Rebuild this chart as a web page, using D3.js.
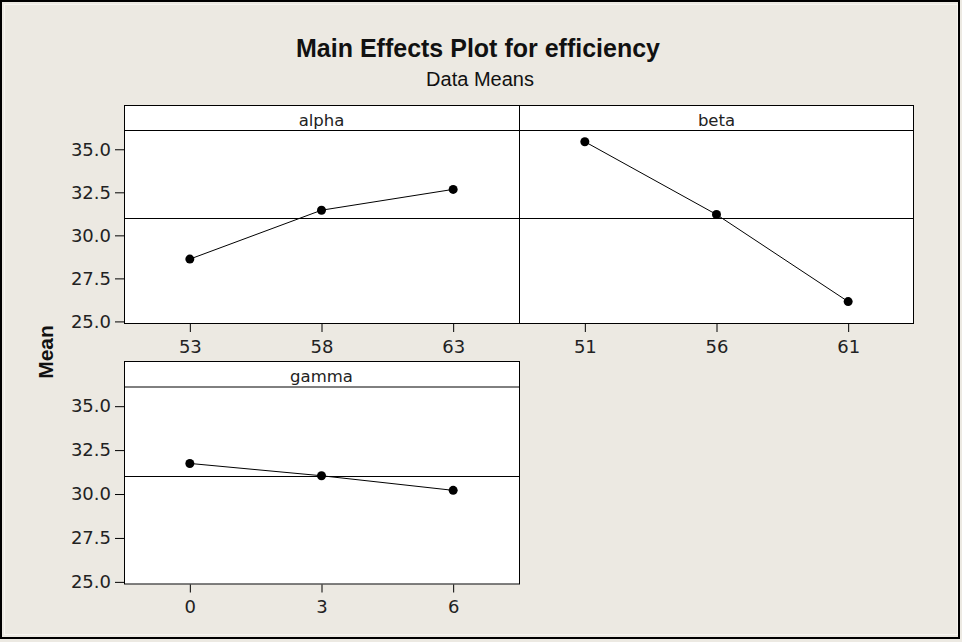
<!DOCTYPE html>
<html>
<head>
<meta charset="utf-8">
<script src="https://cdn.jsdelivr.net/npm/d3@7"></script>
<style>
  html, body { margin: 0; padding: 0; background: #ECE9E2; }
  svg { display: block; }
  text { font-family: "DejaVu Sans", sans-serif; fill: #111; }
</style>
</head>
<body>
<svg id="chart" width="962" height="642"></svg>
<script>
// ---- data ----
const titleText = "Main Effects Plot for efficiency";
const subtitleText = "Data Means";
const yLabel = "Mean";
const factors = ["alpha", "beta", "gamma"];
const alphaLevels = [53, 58, 63];
const alphaMeans = [28.62, 31.46, 32.67];
const betaLevels = [51, 56, 61];
const betaMeans = [35.44, 31.21, 26.15];
const gammaLevels = [0, 3, 6];
const gammaMeans = [31.74, 31.04, 30.21];
const grandMean = 31.0;
const yTicks = [25.0, 27.5, 30.0, 32.5, 35.0];

const panelsData = [
  { name: factors[0], levels: alphaLevels, means: alphaMeans },
  { name: factors[1], levels: betaLevels, means: betaMeans },
  { name: factors[2], levels: gammaLevels, means: gammaMeans }
];

// ---- layout ----
const W = 962, H = 642;
const svg = d3.select("#chart");
svg.append("rect").attr("x", 0).attr("y", 0).attr("width", W).attr("height", H).attr("fill", "#ECE9E2");
svg.append("rect").attr("x", 4.5).attr("y", 4.5).attr("width", W - 9).attr("height", H - 12)
  .attr("fill", "none").attr("stroke", "#F7F5F1").attr("stroke-width", 1);
svg.append("rect").attr("x", 1).attr("y", 1).attr("width", 958).attr("height", 637)
  .attr("fill", "none").attr("stroke", "#000").attr("stroke-width", 2);

svg.append("text").attr("x", 478).attr("y", 57).attr("text-anchor", "middle")
  .style("font-family", "'Liberation Sans', Arial, sans-serif")
  .style("font-weight", "bold").style("font-size", "25px").text(titleText);
svg.append("text").attr("x", 480).attr("y", 86).attr("text-anchor", "middle")
  .style("font-family", "'Liberation Sans', Arial, sans-serif")
  .style("font-size", "20px").text(subtitleText);

svg.append("text")
  .attr("transform", "translate(53,352) rotate(-90)")
  .attr("text-anchor", "middle")
  .style("font-family", "'Liberation Sans', Arial, sans-serif")
  .style("font-weight", "bold").style("font-size", "21px").text(yLabel);

const panelW = 395;
const positions = [
  { x: 124, w: 395, top: 105, strip: 25, bottom: 324, yAxis: true },
  { x: 519, w: 394, top: 105, strip: 25, bottom: 324, yAxis: false },
  { x: 124, w: 395, top: 361, strip: 25.5, bottom: 584.5, yAxis: true }
];
const yDomain = [24.85, 36.12];

panelsData.forEach((p, i) => {
  const pos = positions[i];
  const plotTop = pos.top + pos.strip;
  const g = svg.append("g");
  const x = d3.scalePoint().domain(p.levels).range([pos.x, pos.x + panelW]).padding(0.5);
  const y = d3.scaleLinear().domain(yDomain).range([pos.bottom, plotTop]);

  // panel background
  g.append("rect").attr("x", pos.x).attr("y", pos.top).attr("width", pos.w)
    .attr("height", pos.bottom - pos.top).attr("fill", "#fff");

  // grand mean reference line
  g.append("line").attr("x1", pos.x).attr("x2", pos.x + pos.w)
    .attr("y1", Math.round(y(grandMean)) + 0.5).attr("y2", Math.round(y(grandMean)) + 0.5)
    .attr("stroke", "#000").attr("stroke-width", 1);

  // line + markers
  const pts = p.levels.map((lv, k) => [x(lv), y(p.means[k])]);
  g.append("path").attr("d", d3.line()(pts)).attr("fill", "none")
    .attr("stroke", "#000").attr("stroke-width", 1);
  g.selectAll("circle.m").data(pts).join("circle").attr("class", "m")
    .attr("cx", d => d[0]).attr("cy", d => d[1]).attr("r", 4.5).attr("fill", "#000");

  // strip
  g.append("line").attr("x1", pos.x).attr("x2", pos.x + pos.w)
    .attr("y1", plotTop + 0.5).attr("y2", plotTop + 0.5).attr("stroke", "#000");
  g.append("text").attr("x", pos.x + panelW / 2).attr("y", pos.top + 20.5)
    .attr("text-anchor", "middle").style("font-size", "16.5px").style("fill", "#222").text(p.name);

  // border
  g.append("rect").attr("x", pos.x + 0.5).attr("y", pos.top + 0.5).attr("width", pos.w)
    .attr("height", pos.bottom - pos.top - 1).attr("fill", "none").attr("stroke", "#000");

  // x axis
  const xa = g.append("g").attr("transform", `translate(0,${pos.bottom})`)
    .call(d3.axisBottom(x).tickSize(8).tickPadding(8).tickFormat(d3.format("d")));
  xa.select(".domain").remove();
  xa.selectAll("line").attr("stroke", "#000");
  xa.selectAll("text").style("font-size", "18px").style("font-family", "'DejaVu Sans', sans-serif")
    .style("fill", "#222");

  // y axis
  if (pos.yAxis) {
    const ya = g.append("g").attr("transform", `translate(${pos.x},0)`)
      .call(d3.axisLeft(y).tickValues(yTicks).tickSize(9).tickPadding(4).tickFormat(d3.format(".1f")));
    ya.select(".domain").remove();
    ya.selectAll("line").attr("stroke", "#000");
    ya.selectAll("text").style("font-size", "18px").style("font-family", "'DejaVu Sans', sans-serif")
      .style("fill", "#222");
  }
});
</script>
</body>
</html>
